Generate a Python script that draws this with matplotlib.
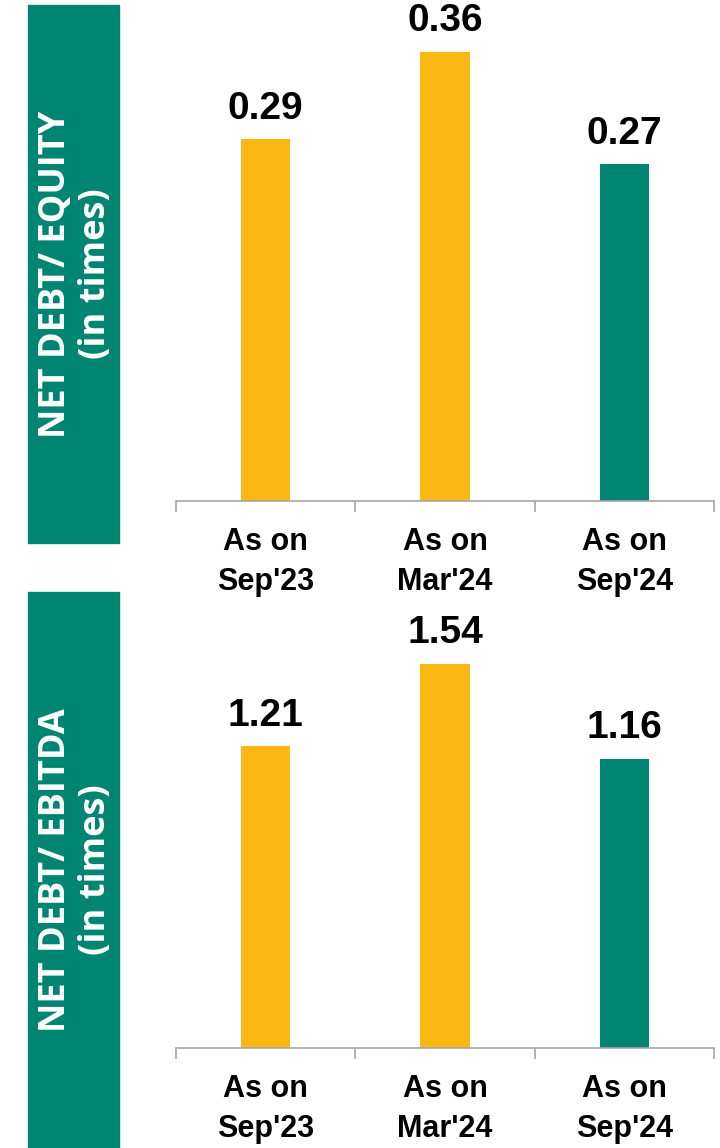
import matplotlib.pyplot as plt
from matplotlib.patches import Rectangle

periods = ["As on\nSep'23", "As on\nMar'24", "As on\nSep'24"]
debt_equity = [0.29, 0.36, 0.27]
debt_ebitda = [1.21, 1.54, 1.16]

yellow = '#FBB813'
green = '#008572'
bar_colors = [yellow, yellow, green]

plt.rcParams['font.family'] = ['Liberation Sans', 'DejaVu Sans']

fig = plt.figure(figsize=(7.2, 11.48), dpi=100)

def draw_panel(rect, ymax, values, band, title):
    ax = fig.add_axes(rect)
    x = range(len(values))
    bars = ax.bar(x, values, width=0.275, color=bar_colors)
    ax.bar_label(bars, labels=['%.2f' % v for v in values], padding=9,
                 fontsize=28, fontweight='bold', color='black')
    ax.set_xlim(-0.5, 2.5)
    ax.set_ylim(0, ymax)
    for s in ['top', 'right', 'left']:
        ax.spines[s].set_visible(False)
    ax.spines['bottom'].set_color('#A6A6A6')
    ax.spines['bottom'].set_linewidth(1.2)
    ax.set_yticks([])
    ax.set_xticks([-0.5, 0.5, 1.5, 2.5])
    ax.set_xticklabels([])
    ax.tick_params(axis='x', which='major', length=8, width=1.2, color='#A6A6A6')
    ax.set_xticks([0, 1, 2], minor=True)
    ax.set_xticklabels(periods, minor=True, fontsize=22, fontweight='bold',
                       linespacing=1.4)
    ax.tick_params(axis='x', which='minor', length=0, pad=19)

    # green side band with rotated caption
    bx, by, bw, bh = band
    fig.patches.append(Rectangle((bx, by), bw, bh, transform=fig.transFigure,
                                 color=green, zorder=0))
    fig.text(bx + bw / 2 + 0.004, by + bh / 2, title, rotation=90, ha='center',
             va='center', multialignment='center', color='white', fontsize=26,
             fontweight='bold', family=['Open Sans', 'DejaVu Sans'],
             linespacing=1.15)
    return ax

draw_panel([0.2444, 0.5636, 0.7472, 0.4347], 0.4, debt_equity,
           (0.0389, 0.527, 0.1264, 0.4686), "NET DEBT/ EQUITY\n(in times)")
draw_panel([0.2444, 0.0871, 0.7472, 0.391], 1.8, debt_ebitda,
           (0.0389, 0.0, 0.1264, 0.4843), "NET DEBT/ EBITDA\n(in times)")

fig.savefig('out.png', dpi=100)
